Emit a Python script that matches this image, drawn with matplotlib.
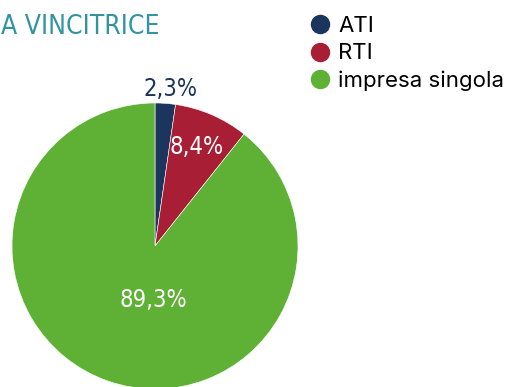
import matplotlib
matplotlib.use("Agg")
import matplotlib.pyplot as plt
from matplotlib.lines import Line2D

# data
categories = ["ATI", "RTI", "impresa singola"]
shares = [2.3, 8.4, 89.3]
labels = ["2,3%", "8,4%", "89,3%"]
colors = ["#1c355e", "#a81f35", "#5eb135"]
title = "A VINCITRICE"

W, H = 513, 387
fig = plt.figure(figsize=(W / 100, H / 100), dpi=100)

# pie centre (155, 246) px, radius 143 px
cx, cy, r = 155, 246, 143
ax = fig.add_axes([(cx - r) / W, (H - cy - r) / H, 2 * r / W, 2 * r / H])
wedges, _ = ax.pie(shares, colors=colors, startangle=90, counterclock=False,
                   radius=1, wedgeprops=dict(edgecolor="white", linewidth=0.4))
ax.set_xlim(-1, 1)
ax.set_ylim(-1, 1)
ax.set_aspect("auto")
ax.axis("off")

narrow = ["DejaVu Sans"]

# label positions (in pie radius units)
label_pos = [(0.105, 1.10), (0.29, 0.69), (-0.01, -0.38)]
label_cols = ["#1c355e", "white", "white"]
for lab, (x, y), c in zip(labels, label_pos, label_cols):
    ax.text(x, y, lab, ha="center", va="center", color=c, fontsize=17,
            family=narrow, fontstretch="condensed", clip_on=False)

fig.text(1 / W, 1 - 27 / H, title, ha="left", va="center", color="#3194a0",
         fontsize=19, family=narrow, fontstretch="condensed")

handles = [Line2D([], [], marker="o", linestyle="none", markersize=13,
                  markerfacecolor=c, markeredgecolor=c) for c in colors]
fig.legend(handles, categories, loc="upper left", bbox_to_anchor=(298 / W, 1 - 5 / H),
           frameon=False, handletextpad=0.3, labelspacing=0.33, borderpad=0,
           handlelength=1.0, prop=dict(family=["Inter", "DejaVu Sans"], size=16))

fig.savefig("out.png", dpi=100)
